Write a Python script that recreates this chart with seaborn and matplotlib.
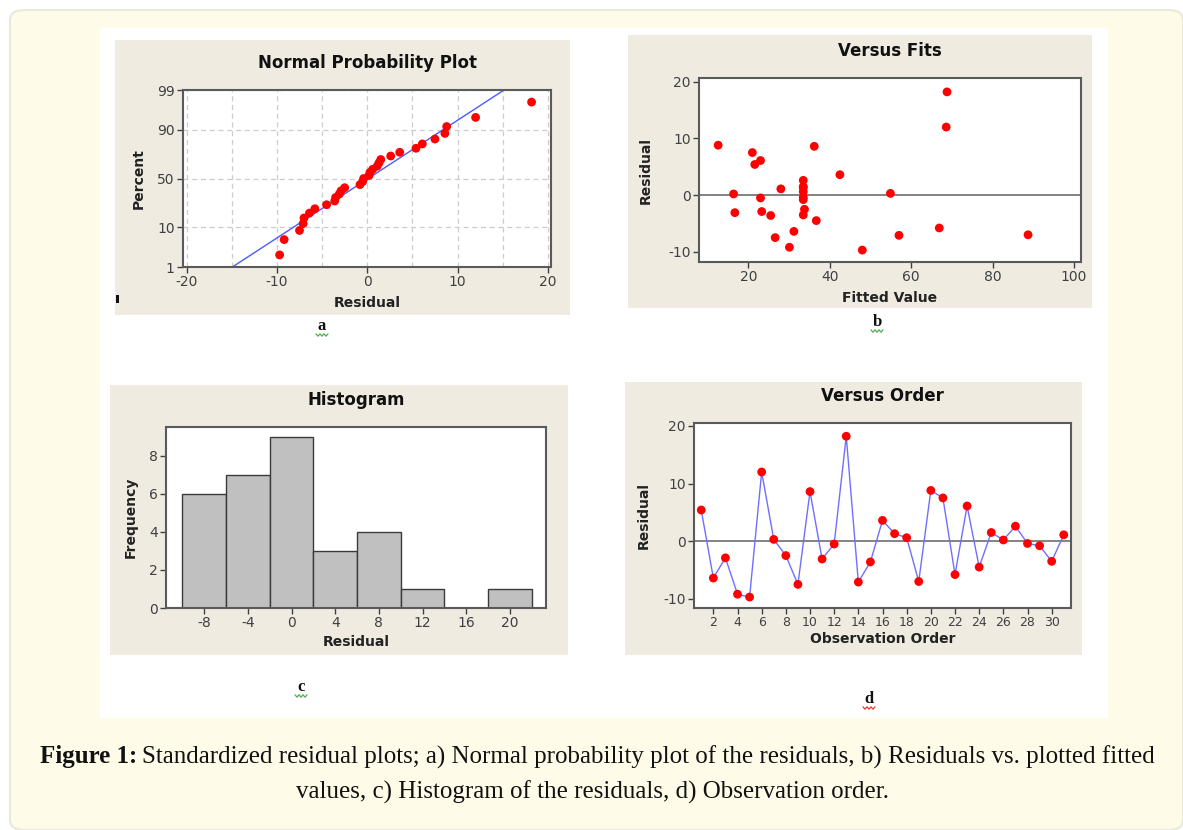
from statistics import NormalDist

import numpy as np
import seaborn as sns
import matplotlib.pyplot as plt
from matplotlib.patches import Rectangle, FancyBboxPatch
from matplotlib.lines import Line2D

# 残差 (観測順)
observation = list(range(1, 32))
residuals = [5.4, -6.4, -2.9, -9.2, -9.7, 12.0, 0.3, -2.5, -7.5, 8.6,
             -3.1, -0.5, 18.2, -7.1, -3.6, 3.6, 1.3, 0.6, -7.0, 8.8,
             7.5, -5.8, 6.1, -4.5, 1.5, 0.2, 2.6, -0.4, -0.8, -3.5, 1.1]
# 当てはめ値 (観測順)
fitted = [21.6, 31.2, 23.3, 30.1, 48.0, 68.6, 54.9, 33.8, 26.6, 36.2,
          16.7, 23.0, 68.8, 57.0, 25.5, 42.5, 33.5, 33.5, 88.7, 12.6,
          21.0, 66.9, 23.0, 36.7, 33.5, 16.4, 33.5, 33.5, 33.5, 33.5, 28.0]

pct_ticks = [1, 10, 50, 90, 99]
caption_bold = "Figure 1:"
caption_1 = "Standardized residual plots; a) Normal probability plot of the residuals, b) Residuals vs. plotted fitted"
caption_2 = "values, c) Histogram of the residuals, d) Observation order."

sns.set_style("ticks")
plt.rcParams['font.family'] = ['DejaVu Sans']
plt.rcParams['axes.unicode_minus'] = False

W, H = 1183, 830
BEIGE = "#efebe1"
RED = "#ff0000"
TICK = "#404040"
SPINE = "#5a5a5a"

fig = plt.figure(figsize=(W / 100, H / 100), dpi=100, facecolor="white")


def box(l, t, r, b):
    return [l / W, 1 - b / H, (r - l) / W, (b - t) / H]


# 背景 (軸の下に置く)
fig.patches.append(FancyBboxPatch((10 / W, 0), (W - 10) / W, (H - 10) / H, boxstyle="round,pad=0,rounding_size=0.012",
                                  transform=fig.transFigure, facecolor="#fefbe9", edgecolor="#ebe8dc", lw=1.5, zorder=-3))
fig.patches.append(Rectangle((100 / W, 1 - 718 / H), 1008 / W, 690 / H, transform=fig.transFigure,
                             facecolor="white", edgecolor="none", zorder=-2))
for l, t, r, b in [(115, 40, 570, 315), (628, 35, 1092, 308), (110, 385, 568, 655), (625, 382, 1082, 655)]:
    fig.patches.append(Rectangle((l / W, 1 - b / H), (r - l) / W, (b - t) / H, transform=fig.transFigure,
                                 facecolor=BEIGE, edgecolor="none", zorder=-1))
fig.patches.append(Rectangle((116 / W, 1 - 303 / H), 3 / W, 8 / H, transform=fig.transFigure,
                             facecolor="#111111", edgecolor="none", zorder=1))


def style(ax, title, xlabel, ylabel, xl, yl):
    ax.set_facecolor("white")
    for s in ax.spines.values():
        s.set_color(SPINE)
        s.set_linewidth(1.5)
    ax.tick_params(colors=TICK, labelsize=10, length=4, width=1, pad=2)
    ax.set_title(title, fontsize=12, fontweight="bold", pad=16, color="#111111")
    ax.set_xlabel(xlabel, fontsize=10, fontweight="bold", color="#222222")
    ax.set_ylabel(ylabel, fontsize=10, fontweight="bold", color="#222222")
    ax.xaxis.set_label_coords(0.5, xl)
    ax.yaxis.set_label_coords(yl, 0.5)


# a) 正規確率プロット
ax1 = fig.add_axes(box(183, 90, 551, 267))
nd = NormalDist()
n = len(residuals)
res_sorted = sorted(residuals)
z = [nd.inv_cdf((i - 0.3) / (n + 0.4)) for i in range(1, n + 1)]
mu, sd = np.mean(residuals), np.std(residuals, ddof=1)
z_lo, z_hi = nd.inv_cdf(0.01), nd.inv_cdf(0.99)
sns.lineplot(x=[mu + sd * z_lo, mu + sd * z_hi], y=[z_lo, z_hi], color="#4a5cff", lw=1, ax=ax1, zorder=2)
sns.scatterplot(x=res_sorted, y=z, color=RED, s=40, edgecolor="none", ax=ax1, zorder=3)
ax1.set_xlim(-20.4, 20.35)
ax1.set_ylim(z_lo, z_hi)
ax1.set_xticks([-20, -10, 0, 10, 20])
ax1.set_xticks(np.arange(-15, 16, 5), minor=True)
ax1.set_yticks([nd.inv_cdf(p / 100) for p in pct_ticks])
ax1.set_yticklabels([str(p) for p in pct_ticks])
ax1.tick_params(which="minor", length=0)
ax1.grid(True, which="both", axis="x", ls=(0, (4, 3)), color="#cccccc", lw=0.9)
ax1.grid(True, which="major", axis="y", ls=(0, (4, 3)), color="#cccccc", lw=0.9)
style(ax1, "Normal Probability Plot", "Residual", "Percent", -0.165, -0.10)

# b) 当てはめ値 vs 残差
ax2 = fig.add_axes(box(699, 78, 1081, 262))
ax2.axhline(0, color="#7a7a7a", lw=1.3, zorder=1)
sns.scatterplot(x=fitted, y=residuals, color=RED, s=40, edgecolor="none", ax=ax2, zorder=3)
ax2.set_xlim(7.9, 101.7)
ax2.set_ylim(-11.8, 20.65)
ax2.set_xticks([20, 40, 60, 80, 100])
ax2.set_yticks([-10, 0, 10, 20])
style(ax2, "Versus Fits", "Fitted Value", "Residual", -0.155, -0.12)

# c) ヒストグラム
ax3 = fig.add_axes(box(166, 427, 546, 608))
sns.histplot(x=residuals, binwidth=4, binrange=(-10, 22), color="#c0c0c0", edgecolor="#3a3a3a",
             linewidth=1, alpha=1, ax=ax3)
ax3.set_xlim(-11.5, 23.3)
ax3.set_ylim(0, 9.5)
ax3.set_xticks(np.arange(-8, 21, 4))
ax3.set_yticks([0, 2, 4, 6, 8])
style(ax3, "Histogram", "Residual", "Frequency", -0.15, -0.075)

# d) 観測順
ax4 = fig.add_axes(box(694, 423, 1071, 608))
ax4.axhline(0, color="#7a7a7a", lw=1.3, zorder=1)
sns.lineplot(x=observation, y=residuals, color="#6f6fff", lw=1, ax=ax4, zorder=2)
sns.scatterplot(x=observation, y=residuals, color=RED, s=40, edgecolor="none", ax=ax4, zorder=3)
ax4.set_xlim(0.4, 31.6)
ax4.set_ylim(-11.6, 20.5)
ax4.set_xticks(np.arange(2, 31, 2))
ax4.set_yticks([-10, 0, 10, 20])
ax4.tick_params(axis="x", labelsize=9)
style(ax4, "Versus Order", "Observation Order", "Residual", -0.13, -0.115)
ax4.tick_params(axis="x", labelsize=9)

# パネル記号と波下線
for lab, x, y, col in [("a", 322, 326, "#4caf50"), ("b", 877, 322, "#4caf50"),
                       ("c", 301, 687, "#4caf50"), ("d", 869, 699, "#e53935")]:
    fig.text(x / W, 1 - y / H, lab, ha="center", va="center", fontsize=12, fontweight="bold",
             family="Liberation Serif", color="#111111")
    xs = np.arange(x - 6, x + 7, 2)
    ys = [y + 9 + (1.2 if k % 2 else -1.2) for k in range(len(xs))]
    fig.lines.append(Line2D(xs / W, [1 - v / H for v in ys], transform=fig.transFigure, color=col, lw=0.9))

# キャプション
t1 = fig.text(40 / W, 1 - 757 / H, caption_bold, ha="left", va="center", fontsize=18, fontweight="bold",
              family="Liberation Serif", color="#111111")
fig.canvas.draw()
bb = t1.get_window_extent()
fig.text((bb.x1 + 5) / W, 1 - 757 / H, caption_1, ha="left", va="center", fontsize=18,
         family="Liberation Serif", color="#111111")
fig.text(592 / W, 1 - 792 / H, caption_2, ha="center", va="center", fontsize=18,
         family="Liberation Serif", color="#111111")

fig.savefig("out.png", dpi=100, facecolor="white")
